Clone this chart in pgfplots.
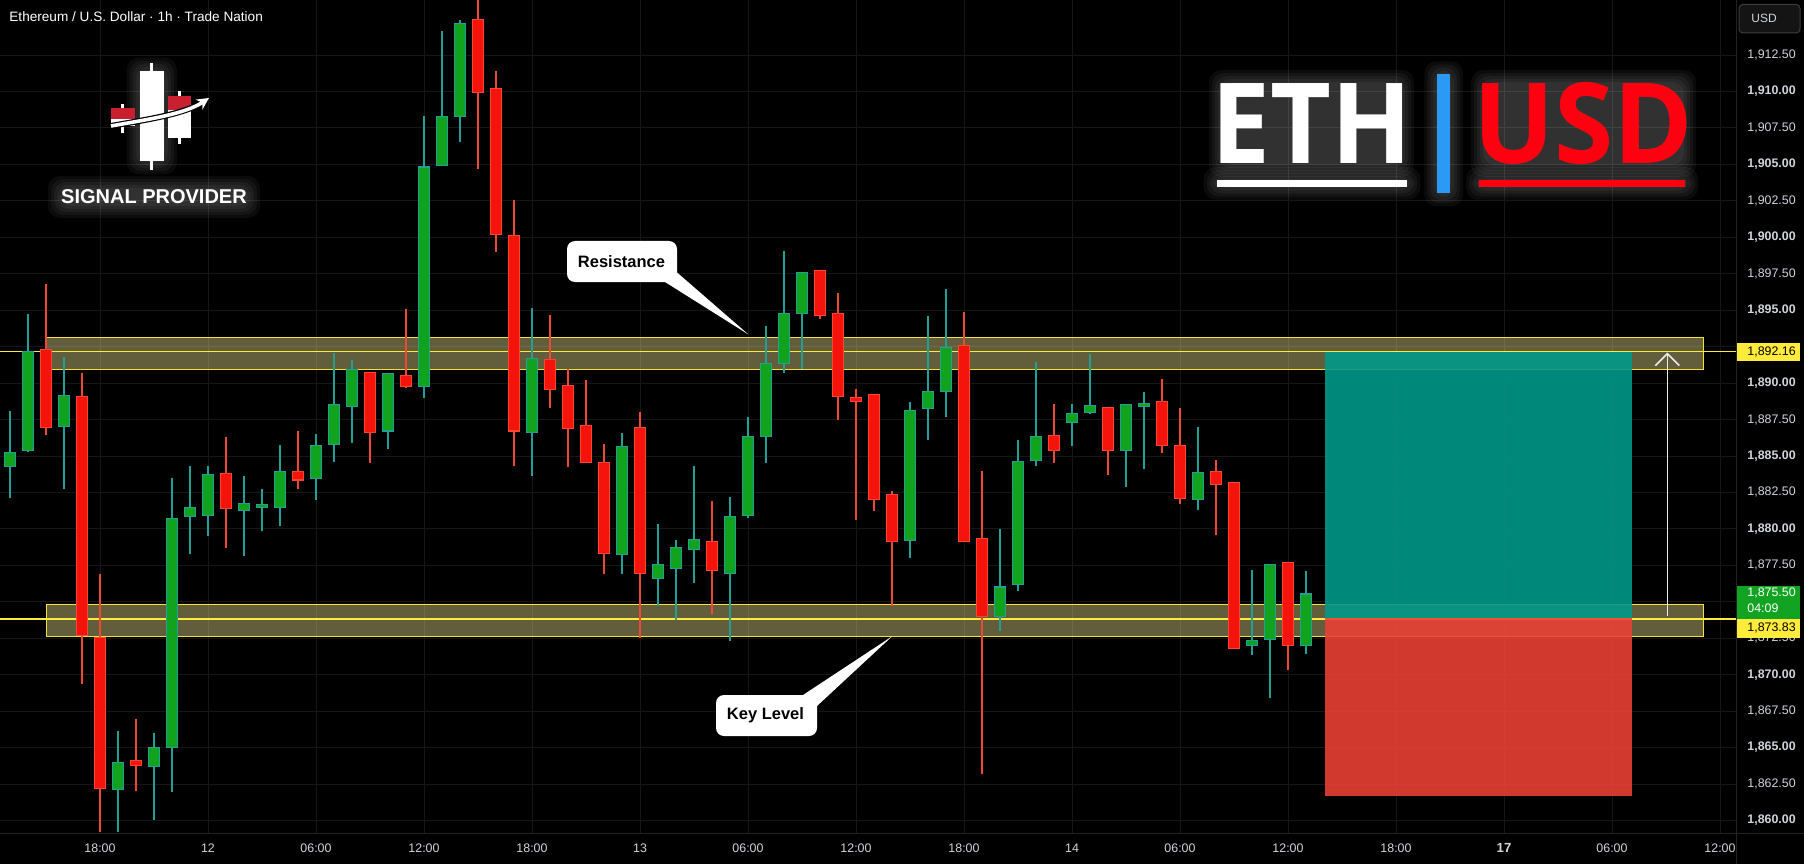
\documentclass[border=0pt]{standalone}
\usepackage{pgfplots}
\pgfplotsset{compat=1.18}
\usepackage{pgfplotstable}
\usepackage{fontspec}
\setmainfont{Liberation Sans}
\newfontfamily\opensans{Open Sans}
\usetikzlibrary{arrows.meta}

\definecolor{upbody}{RGB}{18,163,30}
\definecolor{upwick}{RGB}{34,160,150}
\definecolor{dnbody}{RGB}{245,20,12}
\definecolor{dnedge}{RGB}{255,70,50}
\definecolor{dnwick}{RGB}{240,72,52}
\definecolor{zonefill}{RGB}{255,245,157}
\definecolor{zoneline}{RGB}{245,225,60}
\definecolor{lvl}{RGB}{255,235,59}
\definecolor{gridc}{RGB}{22,22,22}
\definecolor{sepc}{RGB}{34,34,34}
\definecolor{tpfill}{RGB}{0,154,138}
\definecolor{slfill}{RGB}{235,65,53}
\definecolor{entry}{RGB}{240,80,60}
\definecolor{ticktext}{RGB}{209,212,220}
\definecolor{lastgreen}{RGB}{19,163,34}
\definecolor{ethblue}{RGB}{42,154,245}
\definecolor{ethred}{RGB}{255,0,16}
\definecolor{logored}{RGB}{200,32,46}

% hourly candles, t = hours after 18:00 on the 11th
\pgfplotstableread{
t o h l c
-5 1884.30 1888.08 1882.14 1885.20
-4 1885.39 1894.73 1885.28 1892.16
-2 1887.06 1891.78 1882.71 1889.14
1 1862.15 1866.12 1859.20 1863.96
3 1863.73 1866.00 1860.03 1864.98
4 1865.06 1883.50 1861.96 1880.67
5 1880.86 1884.34 1878.25 1881.43
6 1880.97 1884.34 1879.53 1883.69
8 1881.27 1883.62 1878.17 1881.73
9 1881.52 1882.71 1879.84 1881.62
10 1881.50 1885.73 1880.22 1883.88
12 1883.47 1886.49 1881.95 1885.66
13 1885.81 1892.08 1884.60 1888.53
14 1888.46 1891.59 1885.92 1890.87
16 1886.75 1890.72 1885.47 1890.65
18 1889.78 1908.30 1888.98 1904.79
19 1904.94 1914.16 1904.86 1908.26
20 1908.30 1914.88 1906.52 1914.61
24 1886.68 1895.15 1883.65 1891.63
29 1878.25 1886.57 1876.93 1885.62
31 1876.66 1880.37 1874.70 1877.53
32 1877.34 1879.23 1873.75 1878.67
33 1878.59 1884.30 1876.32 1879.23
35 1876.96 1882.18 1872.32 1880.82
36 1880.93 1887.66 1880.74 1886.30
37 1886.34 1893.90 1884.52 1891.29
38 1891.40 1899.04 1890.72 1894.73
39 1894.84 1897.60 1890.95 1897.57
45 1879.27 1888.68 1877.99 1888.08
46 1888.27 1894.62 1886.11 1889.40
47 1889.44 1896.47 1887.70 1892.39
50 1874.05 1879.99 1873.00 1875.98
51 1876.21 1886.11 1875.75 1884.60
52 1884.71 1891.44 1884.34 1886.30
54 1887.36 1888.57 1885.66 1887.89
55 1888.00 1892.00 1887.85 1888.46
57 1885.43 1888.53 1882.90 1888.53
58 1888.45 1889.40 1884.11 1888.52
61 1882.07 1886.98 1881.27 1883.84
64 1872.05 1877.19 1871.37 1872.28
65 1872.43 1877.53 1868.42 1877.53
67 1872.01 1877.12 1871.45 1875.50
}\up

\pgfplotstableread{
t o h l c
-3 1892.27 1896.81 1886.41 1886.98
-1 1889.06 1890.72 1869.33 1872.73
0 1872.50 1876.89 1859.20 1862.22
2 1864.11 1866.95 1862.03 1863.81
7 1883.77 1886.30 1878.67 1881.42
11 1883.92 1886.72 1882.71 1883.39
15 1890.72 1890.72 1884.52 1886.68
17 1890.50 1895.07 1889.67 1889.82
21 1914.88 1916.60 1904.71 1910.00
22 1910.15 1911.40 1899.00 1900.25
23 1900.10 1902.55 1884.34 1886.75
25 1891.56 1894.65 1888.30 1889.63
26 1889.78 1890.95 1884.22 1886.94
27 1887.06 1890.19 1884.50 1884.56
28 1884.52 1885.85 1876.93 1878.36
30 1886.91 1888.00 1872.54 1877.00
34 1879.08 1881.92 1874.13 1877.15
40 1897.68 1897.75 1894.43 1894.65
41 1894.73 1896.17 1887.47 1889.10
42 1888.95 1889.59 1880.63 1888.76
43 1889.17 1889.17 1881.24 1882.07
44 1882.33 1882.63 1874.70 1879.20
48 1892.54 1894.88 1879.12 1879.20
49 1879.31 1883.96 1863.17 1874.02
53 1886.38 1888.57 1884.52 1885.43
56 1888.30 1888.30 1883.73 1885.39
59 1888.72 1890.27 1885.24 1885.77
60 1885.66 1888.30 1881.73 1882.14
62 1883.92 1884.71 1879.61 1883.05
63 1883.16 1883.16 1871.86 1871.86
66 1877.68 1877.68 1870.35 1872.05
}\dn

% soft glow: stacked translucent boxes round a rectangle (x1,y1,x2,y2)
\newcommand\glow[4]{%
  \foreach \r in {1,4,7,10,13}{
    \fill[white, opacity=0.045, rounded corners=6pt] (#1-\r,#2-\r) rectangle (#3+\r,#4+\r);
  }%
}

\begin{document}
\begin{tikzpicture}[x=0.5pt,y=0.5pt]
\useasboundingbox (0,0) rectangle (1804,864);
\fill[black] (0,0) rectangle (1804,864);

\begin{axis}[
    at={(0pt,15.5pt)}, anchor=south west,
    scale only axis, width=868pt, height=416.5pt,
    xmin=-5.5556, xmax=90.8889,
    ymin=1859.14, ymax=1916.28,
    axis line style={draw=none},
    major tick length=0pt,
    xtick={0,6,...,90},
    xticklabels={18:00,12,06:00,12:00,18:00,13,06:00,12:00,18:00,14,06:00,12:00,18:00,{\fontsize{6.6}{7}\selectfont\bfseries 17},06:00,12:00},
    ytick={1860,1862.5,...,1912.5},
    yticklabels={{\bfseries 1,860.00},{1,862.50},{\bfseries 1,865.00},{1,867.50},{\bfseries 1,870.00},{1,872.50},{},{1,877.50},{\bfseries 1,880.00},{1,882.50},{\bfseries 1,885.00},{1,887.50},{\bfseries 1,890.00},{},{\bfseries 1,895.00},{1,897.50},{\bfseries 1,900.00},{1,902.50},{\bfseries 1,905.00},{1,907.50},{\bfseries 1,910.00},{1,912.50}},
    yticklabel pos=right,
    grid=major, major grid style={draw=gridc, line width=0.5pt},
    tick label style={font=\fontsize{6.2}{7}\selectfont, text=ticktext},
    xticklabel style={anchor=base, inner sep=0pt, yshift=-9.5pt},
    yticklabel style={anchor=west, inner sep=0pt, xshift=5.5pt},
  ]

% support / resistance zones
\fill[zonefill, fill opacity=0.385] (axis cs:-3,1890.96) rectangle (axis cs:89.09,1893.15);
\draw[zoneline, line width=0.5pt] (axis cs:-3,1890.96) rectangle (axis cs:89.09,1893.15);
\fill[zonefill, fill opacity=0.385] (axis cs:-3,1872.62) rectangle (axis cs:89.09,1874.82);
\draw[zoneline, line width=0.5pt] (axis cs:-3,1872.62) rectangle (axis cs:89.09,1874.82);
\draw[lvl, line width=0.8pt] (axis cs:-5.5556,1892.16) -- (axis cs:90.8889,1892.16);
\draw[lvl, line width=0.8pt] (axis cs:-5.5556,1873.83) -- (axis cs:90.8889,1873.83);

% wicks
\addplot[draw=none, error bars/.cd, y dir=plus, y explicit, error mark=none,
  error bar style={draw=upwick, line width=0.6pt}]
  table[x=t, y=l, y error plus expr=\thisrow{h}-\thisrow{l}] {\up};
\addplot[draw=none, error bars/.cd, y dir=plus, y explicit, error mark=none,
  error bar style={draw=dnwick, line width=0.6pt}]
  table[x=t, y=l, y error plus expr=\thisrow{h}-\thisrow{l}] {\dn};
% bodies: edge then fill
\addplot[draw=none, error bars/.cd, y dir=plus, y explicit, error mark=none,
  error bar style={draw=upwick, line width=6.2pt}]
  table[x=t, y expr=\thisrow{o}-0.07, y error plus expr={max(\thisrow{c}-\thisrow{o},0.1)+0.14}] {\up};
\addplot[draw=none, error bars/.cd, y dir=plus, y explicit, error mark=none,
  error bar style={draw=upbody, line width=5.2pt}]
  table[x=t, y=o, y error plus expr={max(\thisrow{c}-\thisrow{o},0.1)}] {\up};
\addplot[draw=none, error bars/.cd, y dir=plus, y explicit, error mark=none,
  error bar style={draw=dnedge, line width=6.2pt}]
  table[x=t, y expr=\thisrow{c}-0.07, y error plus expr={max(\thisrow{o}-\thisrow{c},0.1)+0.14}] {\dn};
\addplot[draw=none, error bars/.cd, y dir=plus, y explicit, error mark=none,
  error bar style={draw=dnbody, line width=5.2pt}]
  table[x=t, y=c, y error plus expr={max(\thisrow{o}-\thisrow{c},0.1)}] {\dn};

% long position
\fill[tpfill, fill opacity=0.89] (axis cs:68.06,1873.83) rectangle (axis cs:85.11,1892.16);
\fill[slfill, fill opacity=0.89] (axis cs:68.06,1861.69) rectangle (axis cs:85.11,1873.83);
\draw[entry, line width=0.6pt] (axis cs:68.06,1873.83) -- (axis cs:85.11,1873.83);
\draw[white!92!black, line width=0.75pt, -{Straight Barb[width=12pt,length=6pt,line width=0.8pt]}]
  (axis cs:87.07,1874.02) -- (axis cs:87.07,1892.1);
\end{axis}

% scale separators
\draw[sepc, line width=0.5pt] (0,31) -- (1804,31);
\draw[sepc, line width=0.5pt] (1736,0) -- (1736,864);

% price labels on the scale
\fill[lvl] (1737,503) rectangle (1800,521);
\node[anchor=west, inner sep=0pt, font=\fontsize{6.2}{7}\selectfont, text=black] at (1747,512) {1,892.16};
\fill[lastgreen] (1737,244.7) rectangle (1800,278.3);
\node[anchor=west, inner sep=0pt, font=\fontsize{6.2}{7}\selectfont, text=white] at (1747,270.6) {1,875.50};
\node[anchor=west, inner sep=0pt, font=\fontsize{6.2}{7}\selectfont, text=white] at (1747,255.7) {04:09};
\fill[lvl] (1737,226.5) rectangle (1800,244.7);
\node[anchor=west, inner sep=0pt, font=\fontsize{6.2}{7}\selectfont, text=black] at (1747,235.6) {1,873.83};
\draw[fill={rgb,255:red,20;green,20;blue,20}, draw={rgb,255:red,60;green,60;blue,60}, rounded corners=2pt, line width=0.5pt] (1739,831) rectangle (1800,859.6);
\node[anchor=west, inner sep=0pt, font=\fontsize{6}{7}\selectfont, text=ticktext] at (1751,845.3) {USD};

% title
\node[anchor=west, inner sep=0pt, font=\fontsize{6.8}{8}\selectfont, text=white] at (9,847) {Ethereum / U.S. Dollar · 1h · Trade Nation};

% callouts
\fill[white] (665,582) -- (748.3,529.6) -- (677.3,591.3) -- cycle;
\fill[white, rounded corners=4pt] (567,582) rectangle (677,623);
\node[font=\fontsize{8.25}{9}\selectfont\bfseries, text=black, inner sep=0pt] at (621.5,602.5) {Resistance};
\fill[white] (803,169) -- (892,227.6) -- (817,158) -- cycle;
\fill[white, rounded corners=4pt] (716,128) rectangle (817,169);
\node[font=\fontsize{8.25}{9}\selectfont\bfseries, text=black, inner sep=0pt] at (765.5,148.5) {Key Level};

% signal provider logo
\glow{61}{659}{247}{675}
\node[font=\fontsize{10}{12}\selectfont\bfseries, text=white, inner sep=0pt] at (154,667) {SIGNAL PROVIDER};
\glow{139.7}{702.7}{163.8}{793.3}
\draw[white, line width=1.5pt] (151.6,694) -- (151.6,800.7);
\fill[white] (139.7,702.7) rectangle (163.8,793.3);
\draw[white, line width=1.5pt] (122.8,730.7) -- (122.8,760);
\fill[white] (111,738) rectangle (134.7,744.7);
\fill[logored] (111,744.7) rectangle (134.7,756);
\draw[white, line width=1.5pt] (179.9,719.7) -- (179.9,773.3);
\fill[white] (168.4,725.7) rectangle (191.4,754);
\fill[logored] (168.4,754) rectangle (191.4,768.3);
\draw[black, line width=3pt] (111,738) .. controls (150,745) and (185,750) .. (205,763);
\draw[white, line width=1.8pt, -{Stealth[length=6pt,width=6pt]}] (111,738) .. controls (150,745) and (185,750) .. (209,766);

% ETH | USD badge
\glow{1222}{700}{1401}{781}
\glow{1484}{700}{1683}{781}
\glow{1216.7}{677.3}{1407.3}{684}
\glow{1479}{677.3}{1685}{684}
\glow{1437.3}{670.7}{1450}{789.7}
\node[inner sep=0pt, text=white] at (1311.4,740.3) {\scalebox{0.94}[1]{\fontsize{56}{60}\opensans\bfseries ETH}};
\node[inner sep=0pt, text=ethred] at (1583.4,740.3) {\scalebox{0.96}[1]{\fontsize{56}{60}\opensans\bfseries USD}};
\fill[white] (1216.7,677.3) rectangle (1407.3,684);
\fill[ethred] (1479,677.3) rectangle (1685,684);
\fill[ethblue] (1437.3,670.7) rectangle (1450,789.7);
\end{tikzpicture}
\end{document}
